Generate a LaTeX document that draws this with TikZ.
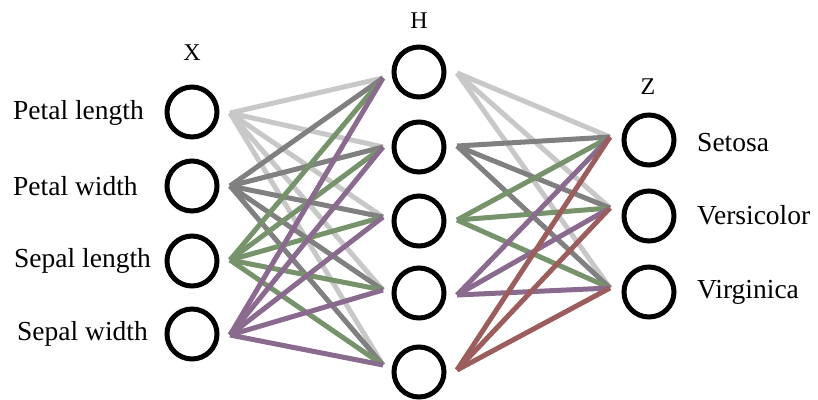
\documentclass[tikz,border=0pt]{standalone}
\usepackage{fontspec}
\setmainfont{Liberation Serif}
\definecolor{cLight}{HTML}{C8C8C8}
\definecolor{cDark}{HTML}{808080}
\definecolor{cGreen}{HTML}{76936B}
\definecolor{cPurple}{HTML}{8B6A8F}
\definecolor{cRed}{HTML}{9C5E5C}
\begin{document}
\begin{tikzpicture}[x=1pt,y=-1pt,
  neuron/.style={circle,draw=black,line width=5pt,minimum size=50pt,inner sep=0pt},
  lbl/.style={font=\fontsize{27.5}{30}\selectfont,anchor=west,inner sep=0pt},
  head/.style={font=\fontsize{24}{26}\selectfont,inner sep=0pt},
  wire/.style={line width=5pt}]
\useasboundingbox (0,0) rectangle (818,399);
% input layer
\node[neuron] (x1) at (192,112) {};
\node[neuron] (x2) at (192,186) {};
\node[neuron] (x3) at (192,261) {};
\node[neuron] (x4) at (192,334) {};
% hidden layer
\node[neuron] (h1) at (419,72) {};
\node[neuron] (h2) at (419,147) {};
\node[neuron] (h3) at (419,221) {};
\node[neuron] (h4) at (419,293) {};
\node[neuron] (h5) at (419,372) {};
% output layer
\node[neuron] (z1) at (649,140) {};
\node[neuron] (z2) at (649,216) {};
\node[neuron] (z3) at (649,292) {};
% headings
\node[head] (hx) at (192,53) {X};
\node[head] (hh) at (419,21) {H};
\node[head] (hz) at (648,87) {Z};
% labels
\node[lbl] (lx1) at (13,113) {Petal length};
\node[lbl] (lx2) at (13,186) {Petal width};
\node[lbl] (lx3) at (14,261) {Sepal length};
\node[lbl] (lx4) at (17,334) {Sepal width};
\node[lbl] (lz1) at (697,143) {Setosa};
\node[lbl] (lz2) at (697,215) {Versicolor};
\node[lbl] (lz3) at (697,292) {Virginica};
% ports
\coordinate (xo1) at (230,113);
\coordinate (xo2) at (230,186);
\coordinate (xo3) at (230,260);
\coordinate (xo4) at (230,335);
\coordinate (hi1) at (383,78);
\coordinate (hi2) at (383,147);
\coordinate (hi3) at (383,217);
\coordinate (hi4) at (383,290);
\coordinate (hi5) at (383,365);
\coordinate (ho1) at (457,73);
\coordinate (ho2) at (457,146);
\coordinate (ho3) at (457,220);
\coordinate (ho4) at (457,295);
\coordinate (ho5) at (457,370);
\coordinate (zi1) at (610,137);
\coordinate (zi2) at (610,208);
\coordinate (zi3) at (610,288);
% X -> H
\foreach \i/\c in {1/cLight,2/cDark,3/cGreen,4/cPurple}{
  \foreach \j in {1,...,5}{
    \draw[wire,draw=\c] (xo\i) -- (hi\j);
  }
}
% H -> Z
\foreach \i/\c in {1/cLight,2/cDark,3/cGreen,4/cPurple,5/cRed}{
  \foreach \j in {1,2,3}{
    \draw[wire,draw=\c] (ho\i) -- (zi\j);
  }
}
\end{tikzpicture}
\end{document}
